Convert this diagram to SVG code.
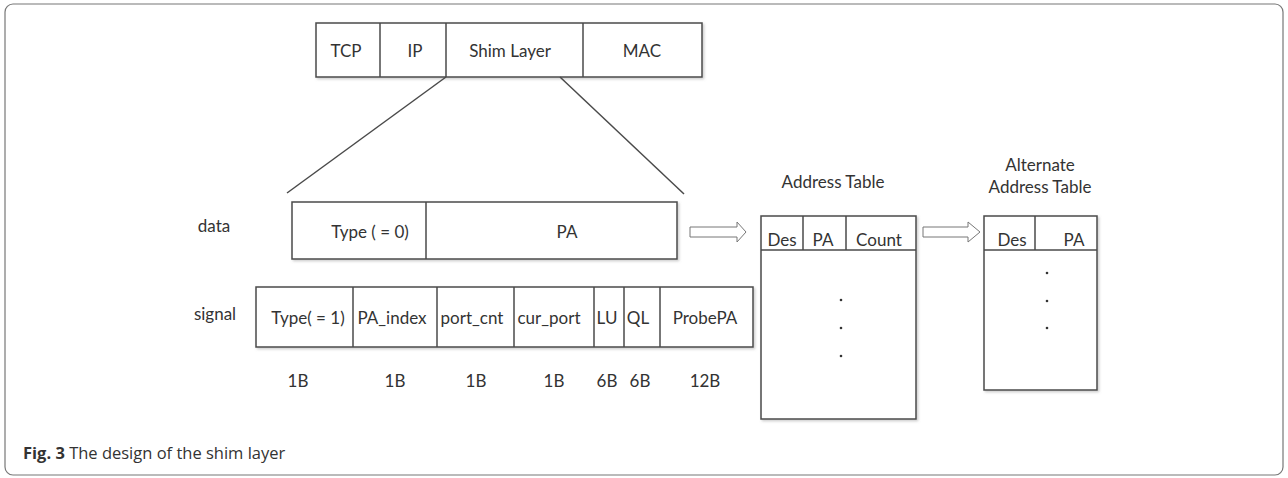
<svg xmlns="http://www.w3.org/2000/svg" width="1288" height="478" viewBox="0 0 1288 478">
<defs>
<filter id="sh" x="-5%" y="-5%" width="115%" height="115%">
<feDropShadow dx="1.5" dy="1.5" stdDeviation="1" flood-color="#999" flood-opacity="0.5"/>
</filter>
</defs>
<style>
.b{fill:#fff;stroke:#4a4a4a;stroke-width:1.5;filter:url(#sh)}
.ln{stroke:#4a4a4a;stroke-width:1.5;fill:none}
.t{font-family:Lato,"Liberation Sans",sans-serif;font-size:17px;fill:#333;text-anchor:middle}
.ar{fill:#fff;stroke:#777;stroke-width:1}
.dot{fill:#333}
.cap{font-family:"Open Sans","Liberation Sans",sans-serif;font-size:16.5px;fill:#333}
</style>
<rect x="5" y="4" width="1278" height="471" rx="8" fill="#fff" stroke="#777" stroke-width="1.2"/>

<g id="protocol-stack">
<rect class="b" x="316" y="23" width="386" height="54"/>
<line class="ln" x1="380" y1="23" x2="380" y2="77"/>
<line class="ln" x1="446" y1="23" x2="446" y2="77"/>
<line class="ln" x1="583" y1="23" x2="583" y2="77"/>
<text class="t" x="346" y="57">TCP</text>
<text class="t" x="415" y="57">IP</text>
<text class="t" x="510" y="57">Shim Layer</text>
<text class="t" x="642" y="57">MAC</text>
</g>

<g id="connectors">
<line class="ln" x1="446" y1="77" x2="287" y2="193"/>
<line class="ln" x1="560" y1="77" x2="684" y2="194"/>
<path class="ar" d="M690,227 H737 V222 L746,232 L737,242 V237 H690 Z"/>
<path class="ar" d="M923,227 H968 V222 L980,232 L968,242 V237 H923 Z"/>
</g>

<g id="data-row">
<text class="t" x="214" y="232">data</text>
<rect class="b" x="292" y="202" width="385" height="57"/>
<line class="ln" x1="426" y1="202" x2="426" y2="259"/>
<text class="t" x="370" y="238">Type ( = 0)</text>
<text class="t" x="567" y="238">PA</text>
</g>

<g id="signal-row">
<text class="t" x="215" y="320">signal</text>
<rect class="b" x="256" y="287" width="497" height="60"/>
<line class="ln" x1="353" y1="287" x2="353" y2="347"/>
<line class="ln" x1="437" y1="287" x2="437" y2="347"/>
<line class="ln" x1="514" y1="287" x2="514" y2="347"/>
<line class="ln" x1="594" y1="287" x2="594" y2="347"/>
<line class="ln" x1="624" y1="287" x2="624" y2="347"/>
<line class="ln" x1="660" y1="287" x2="660" y2="347"/>
<text class="t" x="308" y="324">Type( = 1)</text>
<text class="t" x="392" y="324">PA_index</text>
<text class="t" x="472" y="324">port_cnt</text>
<text class="t" x="549" y="324">cur_port</text>
<text class="t" x="607" y="324">LU</text>
<text class="t" x="638" y="324">QL</text>
<text class="t" x="705" y="324">ProbePA</text>
</g>

<g id="sizes">
<text class="t" x="298" y="387">1B</text>
<text class="t" x="395" y="387">1B</text>
<text class="t" x="476" y="387">1B</text>
<text class="t" x="554" y="387">1B</text>
<text class="t" x="607" y="387">6B</text>
<text class="t" x="640" y="387">6B</text>
<text class="t" x="705" y="387">12B</text>
</g>

<g id="address-table">
<text class="t" x="833" y="188">Address Table</text>
<rect class="b" x="761" y="216" width="155" height="203"/>
<line class="ln" x1="761" y1="250" x2="916" y2="250"/>
<line class="ln" x1="803" y1="216" x2="803" y2="250"/>
<line class="ln" x1="846" y1="216" x2="846" y2="250"/>
<text class="t" x="782" y="246">Des</text>
<text class="t" x="823" y="246">PA</text>
<text class="t" x="879" y="246">Count</text>
<circle class="dot" cx="841" cy="300" r="1.3"/>
<circle class="dot" cx="841" cy="328" r="1.3"/>
<circle class="dot" cx="841" cy="356" r="1.3"/>
</g>

<g id="alternate-address-table">
<text class="t" x="1040" y="171">Alternate</text>
<text class="t" x="1040" y="193">Address Table</text>
<rect class="b" x="984" y="216" width="113" height="174"/>
<line class="ln" x1="984" y1="250" x2="1097" y2="250"/>
<line class="ln" x1="1035" y1="216" x2="1035" y2="250"/>
<text class="t" x="1012" y="246">Des</text>
<text class="t" x="1074" y="246">PA</text>
<circle class="dot" cx="1047" cy="273" r="1.3"/>
<circle class="dot" cx="1047" cy="301" r="1.3"/>
<circle class="dot" cx="1047" cy="328" r="1.3"/>
</g>

<text class="cap" x="23" y="459"><tspan font-weight="bold">Fig. 3</tspan> The design of the shim layer</text>
</svg>
